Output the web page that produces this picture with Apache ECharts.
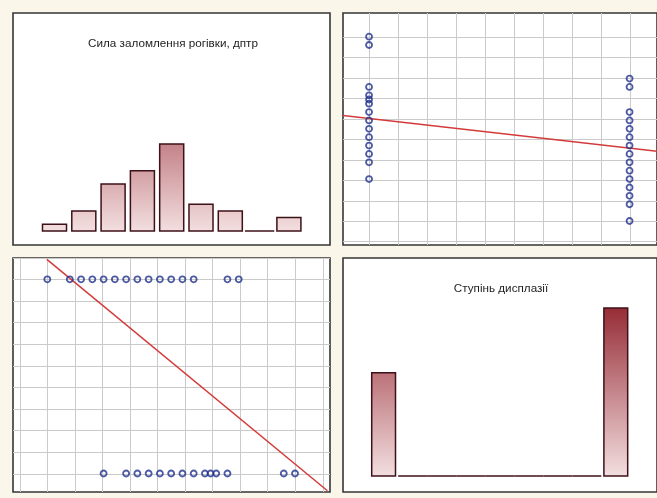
<!DOCTYPE html>
<html>
<head>
<meta charset="utf-8">
<script src="https://cdn.jsdelivr.net/npm/echarts@6/dist/echarts.min.js"></script>
<style>
  html, body { margin: 0; padding: 0; background: #faf7ea; }
  #chart { width: 657px; height: 498px; }
</style>
</head>
<body>
<div id="chart"></div>
<script>
// ---------------- data ----------------
const titleCornea = 'Сила заломлення рогівки, дптр';
const titleDysplasia = 'Ступінь дисплазії';

// histogram of corneal power (9 bins), counts
const corneaBinCounts = [1, 3, 7, 9, 13, 4, 3, 0, 2];
// histogram of dysplasia degree (9 bins), counts
const dysplasiaBinCounts = [16, 0, 0, 0, 0, 0, 0, 0, 26];

// dysplasia levels (x in top-right, y in bottom-left)
const dysplasiaLevels = [1, 2];
// corneal power (dptr) per group
const corneaLevel1 = [42.25, 42.75, 43.0, 43.25, 43.5, 43.75, 44.0, 44.25, 44.5, 44.625, 44.75, 45.0, 46.25, 46.5];
const corneaLevel2 = [41.0, 41.5, 41.75, 42.0, 42.25, 42.5, 42.75, 43.0, 43.25, 43.5, 43.75, 44.0, 44.25, 45.0, 45.25];

// fitted lines, endpoints
const fitCorneaOnDysplasia = [[0.9, 44.15], [2.105, 43.08]];   // x = dysplasia, y = cornea
const fitDysplasiaOnCornea = [[40.99, 2.103], [47.22, 0.911]]; // x = cornea, y = dysplasia

// ---------------- layout ----------------
const P = {
  TL: { l: 13,  t: 13,  w: 317, h: 232 },
  TR: { l: 343, t: 13,  w: 317, h: 232 },
  BL: { l: 13,  t: 258, w: 317, h: 234 },
  BR: { l: 343, t: 258, w: 317, h: 234 }
};
// axis extents: value v maps to px = px0 + k*(v - v0) ; returns [min,max] for panel span
function ext(lo, hi, px0, v0, k) {
  const a = v0 + (lo - px0) / k, b = v0 + (hi - px0) / k;
  return [Math.min(a, b), Math.max(a, b)];
}
const allCornea = corneaLevel1.concat(corneaLevel2);
const cLo = Math.min.apply(null, allCornea), cHi = Math.max.apply(null, allCornea);
const cStep = (cHi - cLo) / 9;
const dLo = dysplasiaLevels[0], dHi = dysplasiaLevels[1];
const dStep = (dHi - dLo) / 9;

const ax = {
  TLx: ext(P.TL.l, P.TL.l + P.TL.w, 54.5, 0, 29.3),
  TLy: ext(P.TL.t + P.TL.h, P.TL.t, 231, 0, -6.7),
  TRx: ext(P.TR.l, P.TR.l + P.TR.w, 369.3, dLo, 263),
  TRy: ext(P.TR.t + P.TR.h, P.TR.t, 221, cLo, -33.52),
  BLx: ext(P.BL.l, P.BL.l + P.BL.w, 47.3, cLo, 45.04),
  BLy: ext(P.BL.t + P.BL.h, P.BL.t, 473.5, dLo, -194.2),
  BRx: ext(P.BR.l, P.BR.l + P.BR.w, 384, 0, 29.3),
  BRy: ext(P.BR.t + P.BR.h, P.BR.t, 476, 0, -6.46)
};

function range(a, b) { const r = []; for (let i = a; i <= b; i++) r.push(i); return r; }

const GRID_COLOR = '#cacaca';
const BAR_BORDER = '#3e1119';
const DOT = '#1f308c';
const FIT = '#d33b3b';

function grid(p) {
  return { left: p.l, top: p.t, width: p.w, height: p.h, show: true,
           backgroundColor: '#ffffff', borderColor: '#363636', borderWidth: 1.6 };
}
function axis(e) { return { type: 'value', min: e[0], max: e[1], show: false, scale: true }; }

function vLines(idx, values, yAny) {
  return { type: 'custom', xAxisIndex: idx, yAxisIndex: idx, clip: true, silent: true, z: 1,
    encode: { x: 0, y: 1 },
    data: values.map(v => [v, yAny]),
    renderItem: function (params, api) {
      const cs = params.coordSys;
      const x = Math.round(api.coord([api.value(0), api.value(1)])[0]) + 0.5;
      return { type: 'line', shape: { x1: x, y1: cs.y, x2: x, y2: cs.y + cs.height },
               style: { stroke: GRID_COLOR, lineWidth: 1 } };
    } };
}
function hLines(idx, values, xAny) {
  return { type: 'custom', xAxisIndex: idx, yAxisIndex: idx, clip: true, silent: true, z: 1,
    encode: { x: 0, y: 1 },
    data: values.map(v => [xAny, v]),
    renderItem: function (params, api) {
      const cs = params.coordSys;
      const y = Math.round(api.coord([api.value(0), api.value(1)])[1]) + 0.5;
      return { type: 'line', shape: { x1: cs.x, y1: y, x2: cs.x + cs.width, y2: y },
               style: { stroke: GRID_COLOR, lineWidth: 1 } };
    } };
}
function histo(idx, counts) {
  return { type: 'custom', xAxisIndex: idx, yAxisIndex: idx, clip: true, silent: true, z: 3,
    encode: { x: 0, y: 1 },
    data: counts.map((c, i) => [i, c]),
    renderItem: function (params, api) {
      const i = api.value(0), c = api.value(1);
      const top = api.coord([i, c]);
      const base = api.coord([i, 0]);
      const band = api.size([1, 0])[0];
      if (c <= 0) {
        return { type: 'line', shape: { x1: base[0] - band / 2, y1: base[1], x2: base[0] + band / 2, y2: base[1] },
                 style: { stroke: BAR_BORDER, lineWidth: 1.5 } };
      }
      const bw = band * 0.82;
      const h = base[1] - top[1];
      // colour darkens with absolute height above the baseline (170 px = darkest)
      const f = Math.min(1, h / 170);
      const mix = (a, b) => Math.round(a + (b - a) * f);
      const topColor = 'rgb(' + mix(243, 149) + ',' + mix(223, 42) + ',' + mix(224, 52) + ')';
      const grad = new echarts.graphic.LinearGradient(0, 0, 0, 1, [
        { offset: 0, color: topColor },
        { offset: 1, color: '#f3dfe0' }
      ]);
      return { type: 'rect', shape: { x: base[0] - bw / 2, y: top[1], width: bw, height: h },
               style: { fill: grad, stroke: BAR_BORDER, lineWidth: 1.5 } };
    } };
}
function scatter(idx, data) {
  return { type: 'scatter', xAxisIndex: idx, yAxisIndex: idx, z: 5, silent: true,
    symbol: 'circle', symbolSize: 6, data: data,
    itemStyle: { color: 'rgba(255,255,255,0)', borderColor: DOT, borderWidth: 1.8 } };
}
function fitLine(idx, pts) {
  return { type: 'line', xAxisIndex: idx, yAxisIndex: idx, z: 4, silent: true, clip: true,
    showSymbol: false, symbol: 'none', data: pts,
    lineStyle: { color: FIT, width: 1.5 } };
}

const cornGridVals = range(-1, 10).map(k => cLo + k * cStep);
const cornGridValsTR = range(-1, 9).map(k => cLo + k * cStep);
const dysGridVals = range(-1, 10).map(k => dLo + k * dStep);

const option = {
  animation: false,
  backgroundColor: '#faf7ea',
  grid: [grid(P.TL), grid(P.TR), grid(P.BL), grid(P.BR)],
  xAxis: [axis(ax.TLx), axis(ax.TRx), axis(ax.BLx), axis(ax.BRx)].map((a, i) => Object.assign(a, { gridIndex: i })),
  yAxis: [axis(ax.TLy), axis(ax.TRy), axis(ax.BLy), axis(ax.BRy)].map((a, i) => Object.assign(a, { gridIndex: i })),
  graphic: [
    { type: 'text', x: 173, y: 44, z: 10,
      style: { text: titleCornea, font: '11.7px "Liberation Sans", Arial, sans-serif', fill: '#1e1e1e',
               align: 'center', verticalAlign: 'middle', textAlign: 'center', textVerticalAlign: 'middle' } },
    { type: 'text', x: 501, y: 289, z: 10,
      style: { text: titleDysplasia, font: '11.7px "Liberation Sans", Arial, sans-serif', fill: '#1e1e1e',
               align: 'center', verticalAlign: 'middle', textAlign: 'center', textVerticalAlign: 'middle' } }
  ],
  series: [
    // top-left: histogram of corneal power
    histo(0, corneaBinCounts),
    // top-right: cornea vs dysplasia
    vLines(1, dysGridVals, cLo),
    hLines(1, cornGridValsTR, dLo),
    fitLine(1, fitCorneaOnDysplasia),
    scatter(1, corneaLevel1.map(v => [dysplasiaLevels[0], v])),
    scatter(1, corneaLevel2.map(v => [dysplasiaLevels[1], v])),
    // bottom-left: dysplasia vs cornea
    vLines(2, cornGridVals, dLo),
    hLines(2, dysGridVals, cLo),
    fitLine(2, fitDysplasiaOnCornea),
    scatter(2, corneaLevel1.map(v => [v, dysplasiaLevels[0]])),
    scatter(2, corneaLevel2.map(v => [v, dysplasiaLevels[1]])),
    // bottom-right: histogram of dysplasia degree
    histo(3, dysplasiaBinCounts)
  ]
};

const chart = echarts.init(document.getElementById('chart'), null, { renderer: 'canvas' });
chart.setOption(option);
</script>
</body>
</html>
